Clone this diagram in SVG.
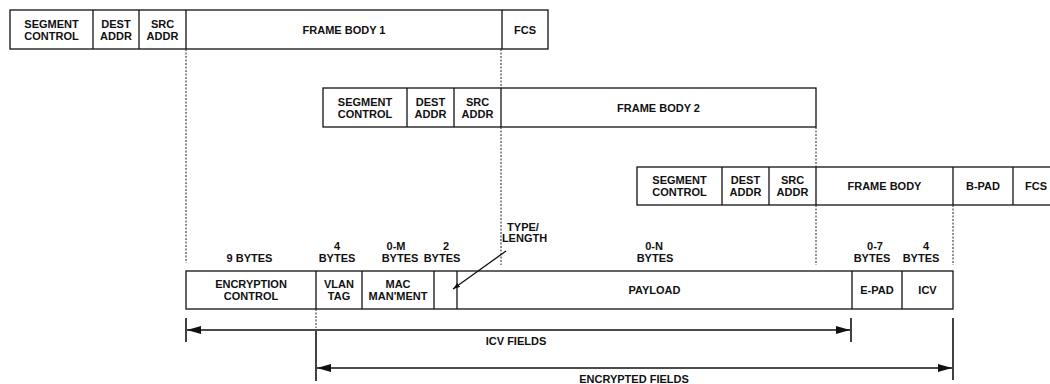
<svg xmlns="http://www.w3.org/2000/svg" width="1050" height="384" viewBox="0 0 1050 384">
<style>
.bx{fill:#fff;stroke:#111;stroke-width:1.3}
.ln{stroke:#111;stroke-width:1.3;fill:none}
.dt{stroke:#222;stroke-width:1;stroke-dasharray:2 1.5;fill:none}
.bar{stroke:#111;stroke-width:1.6;fill:none}
text{font-family:"Liberation Sans",Arial,sans-serif;font-weight:bold;font-size:11px;fill:#111;text-anchor:middle}
</style>
<defs>
<marker id="ah" viewBox="0 0 14 8" refX="14" refY="4" markerWidth="14" markerHeight="8" markerUnits="userSpaceOnUse" orient="auto-start-reverse">
<path d="M0,0 L14,4 L0,8 Z" fill="#111"/>
</marker>
<marker id="sm" viewBox="0 0 7 5" refX="7" refY="2.5" markerWidth="7" markerHeight="5" markerUnits="userSpaceOnUse" orient="auto">
<path d="M0,0 L7,2.5 L0,5 Z" fill="#111"/>
</marker>
</defs>

<g id="frame1">
<rect class="bx" x="10" y="10" width="538" height="39"/>
<line class="ln" x1="93" y1="10" x2="93" y2="49"/>
<line class="ln" x1="139" y1="10" x2="139" y2="49"/>
<line class="ln" x1="186" y1="10" x2="186" y2="49"/>
<line class="ln" x1="502" y1="10" x2="502" y2="49"/>
<text x="51.5" y="27.5">SEGMENT</text><text x="51.5" y="39.5">CONTROL</text>
<text x="116" y="27.5">DEST</text><text x="116" y="39.5">ADDR</text>
<text x="162.5" y="27.5">SRC</text><text x="162.5" y="39.5">ADDR</text>
<text x="344" y="33.5">FRAME BODY 1</text>
<text x="525" y="33.5">FCS</text>
</g>

<g id="frame2">
<rect class="bx" x="323" y="88" width="493" height="39"/>
<line class="ln" x1="407" y1="88" x2="407" y2="127"/>
<line class="ln" x1="454" y1="88" x2="454" y2="127"/>
<line class="ln" x1="501" y1="88" x2="501" y2="127"/>
<text x="365" y="105.5">SEGMENT</text><text x="365" y="117.5">CONTROL</text>
<text x="430.5" y="105.5">DEST</text><text x="430.5" y="117.5">ADDR</text>
<text x="477.5" y="105.5">SRC</text><text x="477.5" y="117.5">ADDR</text>
<text x="658.5" y="111.5">FRAME BODY 2</text>
</g>

<g id="frame3">
<rect class="bx" x="637" y="167" width="420" height="38"/>
<line class="ln" x1="722" y1="167" x2="722" y2="205"/>
<line class="ln" x1="769" y1="167" x2="769" y2="205"/>
<line class="ln" x1="816" y1="167" x2="816" y2="205"/>
<line class="ln" x1="953" y1="167" x2="953" y2="205"/>
<line class="ln" x1="1013" y1="167" x2="1013" y2="205"/>
<text x="679.5" y="184">SEGMENT</text><text x="679.5" y="196">CONTROL</text>
<text x="745.5" y="184">DEST</text><text x="745.5" y="196">ADDR</text>
<text x="792.5" y="184">SRC</text><text x="792.5" y="196">ADDR</text>
<text x="884.5" y="190">FRAME BODY</text>
<text x="983" y="190">B-PAD</text>
<text x="1036" y="190">FCS</text>
</g>

<g id="encrypted-frame">
<rect class="bx" x="186" y="271" width="767" height="38"/>
<line class="ln" x1="316" y1="271" x2="316" y2="309"/>
<line class="ln" x1="362" y1="271" x2="362" y2="309"/>
<line class="ln" x1="434" y1="271" x2="434" y2="309"/>
<line class="ln" x1="457" y1="271" x2="457" y2="309"/>
<line class="ln" x1="852" y1="271" x2="852" y2="309"/>
<line class="ln" x1="902" y1="271" x2="902" y2="309"/>
<text x="251" y="288">ENCRYPTION</text><text x="251" y="300">CONTROL</text>
<text x="339" y="288">VLAN</text><text x="339" y="300">TAG</text>
<text x="398" y="288">MAC</text><text x="398" y="300">MAN'MENT</text>
<text x="654.5" y="294">PAYLOAD</text>
<text x="877" y="294">E-PAD</text>
<text x="927.5" y="294">ICV</text>
</g>

<g id="size-labels">
<text x="249.5" y="262">9 BYTES</text>
<text x="337" y="250">4</text><text x="337" y="262">BYTES</text>
<text x="396" y="250">0-M</text><text x="400" y="262">BYTES</text>
<text x="446" y="250">2</text><text x="442" y="262">BYTES</text>
<text x="523" y="231">TYPE/</text><text x="524.5" y="242">LENGTH</text>
<text x="654" y="250">0-N</text><text x="655" y="262">BYTES</text>
<text x="875" y="250">0-7</text><text x="872" y="262">BYTES</text>
<text x="926" y="250">4</text><text x="921" y="262">BYTES</text>
</g>

<g id="icv-fields">
<line class="bar" x1="186" y1="318" x2="186" y2="342"/>
<line class="bar" x1="851" y1="318" x2="851" y2="342"/>
<text x="516" y="344.5">ICV FIELDS</text>
</g>

<g id="encrypted-fields">
<line class="bar" x1="316" y1="331" x2="316" y2="381"/>
<line class="bar" x1="953" y1="318" x2="953" y2="380"/>
<text x="634" y="383">ENCRYPTED FIELDS</text>
</g>

<g id="connectors">
<line class="dt" x1="186" y1="49" x2="186" y2="263"/>
<line class="dt" x1="501" y1="49" x2="501" y2="88"/>
<line class="dt" x1="501" y1="127" x2="501" y2="265"/>
<line class="dt" x1="816" y1="127" x2="816" y2="167"/>
<line class="dt" x1="816" y1="205" x2="816" y2="265"/>
<line class="dt" x1="953" y1="205" x2="953" y2="265"/>
<line class="dt" x1="316" y1="309" x2="316" y2="328"/>
<line class="ln" x1="506" y1="251" x2="453" y2="289" marker-end="url(#sm)"/>
<line class="ln" x1="187" y1="330" x2="850" y2="330" marker-start="url(#ah)" marker-end="url(#ah)"/>
<line class="ln" x1="317" y1="368" x2="952" y2="368" marker-start="url(#ah)" marker-end="url(#ah)"/>
</g>
</svg>
